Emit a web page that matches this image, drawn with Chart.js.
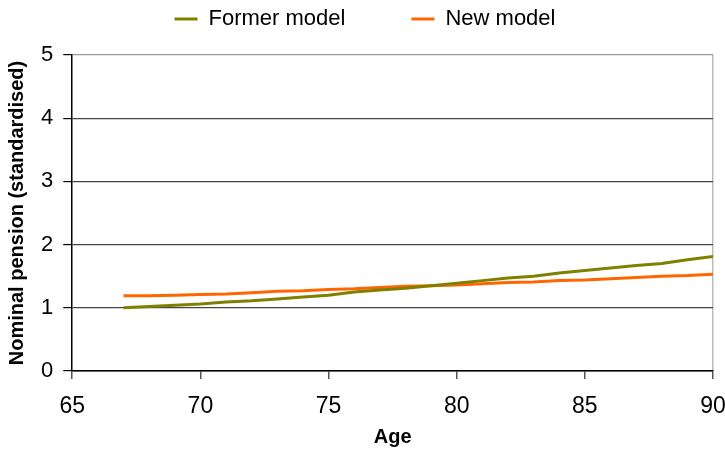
<!DOCTYPE html>
<html>
<head>
<meta charset="utf-8">
<script src="https://cdn.jsdelivr.net/npm/chart.js@4/dist/chart.umd.min.js"></script>
<style>
  html, body { margin: 0; padding: 0; background: #fff; }
  #wrap { width: 725px; height: 451px; }
</style>
</head>
<body>
<div id="wrap"><canvas id="pension-chart"></canvas></div>
<script>
const ages = [67, 68, 69, 70, 71, 72, 73, 74, 75, 76, 77, 78, 79, 80, 81, 82, 83, 84, 85, 86, 87, 88, 89, 90];
const formerModel = [1.00, 1.02, 1.04, 1.06, 1.09, 1.11, 1.14, 1.17, 1.20, 1.25, 1.28, 1.31, 1.35, 1.39, 1.43, 1.47, 1.50, 1.55, 1.59, 1.63, 1.67, 1.70, 1.76, 1.81];
const newModel = [1.19, 1.19, 1.20, 1.21, 1.22, 1.24, 1.26, 1.27, 1.29, 1.30, 1.32, 1.34, 1.35, 1.36, 1.38, 1.40, 1.41, 1.43, 1.44, 1.46, 1.48, 1.50, 1.51, 1.53];
const xTicks = [65, 70, 75, 80, 85, 90];
const yTicks = [0, 1, 2, 3, 4, 5];

const toPoints = vals => ages.map((a, i) => ({ x: a, y: vals[i] }));

// legend: wide gap between the two items but a short box at the top
const LEGEND_GAP = 66;
const LEGEND_HEIGHT = 55;
const compactLegend = {
    id: "compactLegend",
    beforeLayout(chart) {
        const lg = chart.legend;
        if (!lg || lg._patched) return;
        lg._patched = true;
        const fit = lg.fit.bind(lg);
        lg.fit = function () { fit(); this.height = LEGEND_HEIGHT; };
        const draw = lg.draw.bind(lg);
        lg.draw = function () {
            const t = this.top;
            this.top = t - (LEGEND_GAP - 8);
            draw();
            this.top = t;
        };
    }
};

document.addEventListener("DOMContentLoaded", () => {
    const ctx = document.getElementById("pension-chart").getContext("2d");
    const font = "'Liberation Sans', Arial, sans-serif";

    new Chart(ctx, {
        type: "line",
        data: {
            datasets: [
                {
                    label: "Former model",
                    data: toPoints(formerModel),
                    borderColor: "#808000",
                    backgroundColor: "#808000",
                    borderWidth: 3,
                    pointRadius: 0,
                    tension: 0
                },
                {
                    label: "New model",
                    data: toPoints(newModel),
                    borderColor: "#ff6600",
                    backgroundColor: "#ff6600",
                    borderWidth: 3,
                    pointRadius: 0,
                    tension: 0
                }
            ]
        },
        plugins: [compactLegend],
        options: {
            responsive: true,
            maintainAspectRatio: false,
            animation: false,
            layout: { padding: { top: 0, right: 0, left: 5, bottom: 0 } },
            plugins: {
                legend: {
                    position: "top",
                    labels: {
                        usePointStyle: true,
                        pointStyle: "line",
                        pointStyleWidth: 23,
                        padding: LEGEND_GAP,
                        color: "#000",
                        font: { family: font, size: 22 }
                    }
                },
                tooltip: { enabled: false }
            },
            scales: {
                x: {
                    type: "linear",
                    min: 65,
                    max: 90,
                    afterBuildTicks: axis => { axis.ticks = xTicks.map(v => ({ value: v })); },
                    afterFit: axis => { axis.paddingRight = 12; axis.height = 80; },
                    border: { color: "#000", width: 1.5 },
                    grid: {
                        drawOnChartArea: true,
                        color: c => (c.tick && c.tick.value === 90 ? "#bbbbbb" : "rgba(0,0,0,0)"),
                        tickColor: "#555",
                        tickLength: 8,
                        lineWidth: 1.5
                    },
                    ticks: {
                        color: "#000",
                        padding: 14,
                        maxRotation: 0,
                        font: { family: font, size: 23 }
                    },
                    title: {
                        display: true,
                        text: "Age",
                        color: "#000",
                        font: { family: font, size: 20, weight: "bold" },
                        padding: { top: 4, bottom: 2 }
                    }
                },
                y: {
                    min: 0,
                    max: 5,
                    afterBuildTicks: axis => { axis.ticks = yTicks.map(v => ({ value: v })); },
                    border: { color: "#000", width: 1.5 },
                    grid: {
                        color: c => (c.tick && c.tick.value === 5 ? "#999" : "#444"),
                        tickColor: "#000",
                        tickLength: 9,
                        lineWidth: 1.2
                    },
                    ticks: {
                        color: "#000",
                        padding: 10,
                        font: { family: font, size: 22 }
                    },
                    title: {
                        display: true,
                        text: "Nominal pension (standardised)",
                        color: "#000",
                        font: { family: font, size: 20, weight: "bold" },
                        padding: { top: 0, bottom: 2 }
                    }
                }
            }
        }
    });
});
</script>
</body>
</html>
